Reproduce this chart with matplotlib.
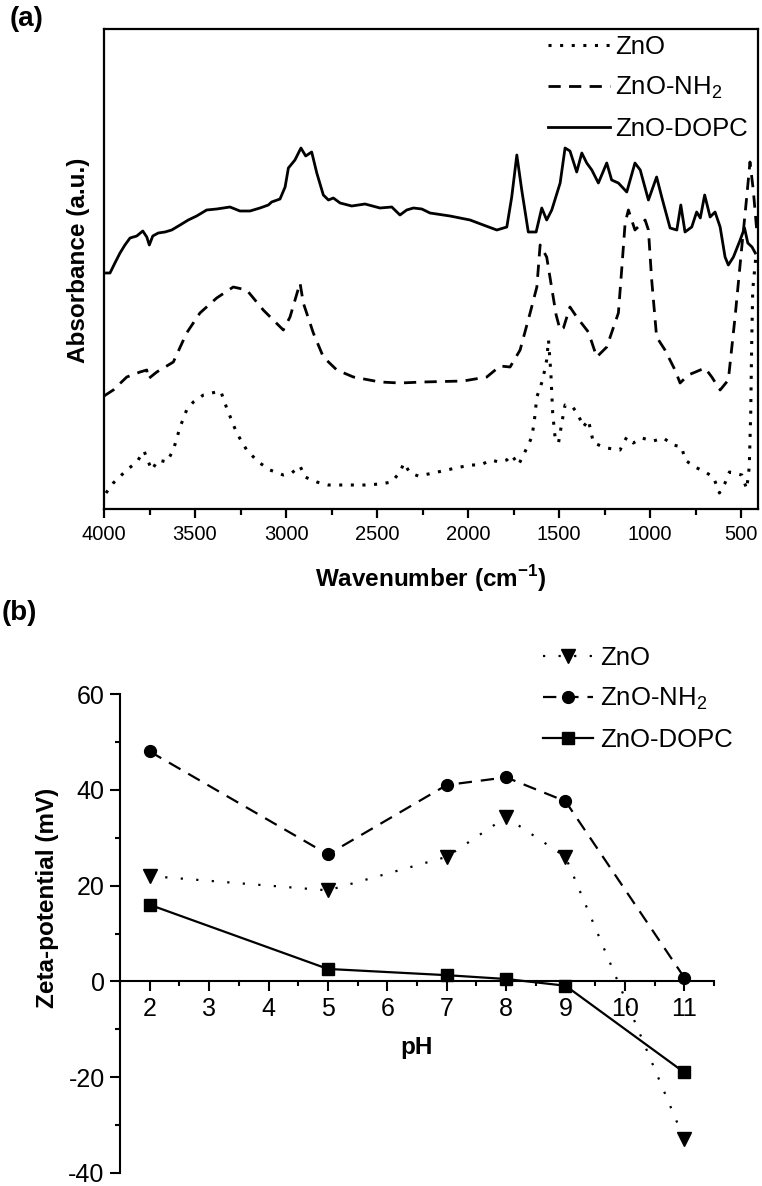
import matplotlib
matplotlib.use('Agg')
import matplotlib.pyplot as plt
from matplotlib.ticker import MultipleLocator

plt.rcParams['font.family'] = ['Liberation Sans', 'DejaVu Sans']
plt.rcParams['mathtext.fontset'] = 'custom'
plt.rcParams['mathtext.rm'] = 'Liberation Sans'
plt.rcParams['mathtext.bf'] = 'Liberation Sans:bold'
plt.rcParams['axes.unicode_minus'] = False

# (a) FTIR spectra, wavenumber (cm-1) vs absorbance (a.u., offset)
wn_zno = [3989, 3949, 3875, 3820, 3780, 3738, 3702, 3655, 3619, 3582, 3546, 3509,
          3454, 3408, 3359, 3326, 3271, 3216, 3152, 3088, 3015, 2969, 2923, 2896,
          2831, 2767, 2566, 2484, 2419, 2374, 2352, 2319, 2273, 2191, 2117, 1989,
          1934, 1870, 1833, 1787, 1760, 1723, 1696, 1669, 1650, 1637, 1622, 1590,
          1568, 1558, 1545, 1535, 1522, 1503, 1485, 1467, 1425, 1394, 1367, 1339,
          1311, 1238, 1165, 1128, 1092, 1046, 982, 927, 872, 826, 808, 753, 698,
          652, 619, 588, 564, 496, 469, 455, 447, 442, 436, 420]
abs_zno = [0.16, 0.26, 0.39, 0.47, 0.58, 0.39, 0.49, 0.47, 0.59, 0.82, 0.99, 1.07,
           1.14, 1.16, 1.18, 1.01, 0.76, 0.59, 0.47, 0.39, 0.34, 0.36, 0.43, 0.32,
           0.27, 0.24, 0.24, 0.25, 0.27, 0.37, 0.46, 0.36, 0.33, 0.36, 0.39, 0.44,
           0.44, 0.49, 0.47, 0.49, 0.54, 0.44, 0.54, 0.64, 0.72, 0.86, 1.12, 1.29,
           1.49, 1.69, 1.36, 0.96, 0.72, 0.66, 0.86, 1.04, 1.02, 0.94, 0.82, 0.89,
           0.66, 0.61, 0.59, 0.72, 0.66, 0.71, 0.68, 0.71, 0.64, 0.62, 0.49, 0.42,
           0.37, 0.32, 0.16, 0.26, 0.37, 0.34, 0.20, 0.42, 0.96, 1.62, 2.19, 2.50]

wn_nh2 = [4000, 3949, 3875, 3802, 3765, 3758, 3710, 3619, 3546, 3473, 3381, 3290,
          3216, 3125, 3015, 2978, 2923, 2905, 2850, 2795, 2721, 2630, 2484, 2374,
          2246, 2026, 1897, 1824, 1769, 1714, 1659, 1622, 1604, 1568, 1516, 1494,
          1476, 1440, 1403, 1339, 1293, 1238, 1174, 1156, 1137, 1119, 1083, 1027,
          1009, 991, 964, 918, 863, 835, 790, 698, 661, 615, 570, 533, 496, 469,
          451, 433, 414]
abs_nh2 = [1.13, 1.19, 1.32, 1.37, 1.39, 1.30, 1.37, 1.47, 1.76, 1.96, 2.11, 2.22,
           2.19, 1.99, 1.79, 1.92, 2.26, 2.06, 1.76, 1.52, 1.39, 1.32, 1.27, 1.26,
           1.27, 1.28, 1.32, 1.43, 1.42, 1.59, 1.96, 2.22, 2.64, 2.52, 1.94, 1.79,
           1.81, 2.02, 1.92, 1.77, 1.52, 1.62, 1.96, 2.39, 2.86, 2.99, 2.79, 2.89,
           2.79, 2.29, 1.72, 1.59, 1.39, 1.26, 1.34, 1.41, 1.32, 1.19, 1.29, 1.92,
           2.62, 3.12, 3.47, 3.19, 2.79]

wn_dopc = [3995, 3967, 3940, 3912, 3885, 3857, 3820, 3787, 3765, 3751, 3732, 3702,
           3665, 3628, 3582, 3537, 3491, 3436, 3381, 3308, 3253, 3198, 3143, 3097,
           3079, 3033, 3005, 2987, 2951, 2918, 2892, 2859, 2831, 2795, 2767, 2740,
           2703, 2639, 2566, 2484, 2419, 2374, 2337, 2300, 2254, 2209, 2099, 1989,
           1916, 1842, 1787, 1760, 1732, 1705, 1669, 1626, 1595, 1568, 1540, 1494,
           1467, 1440, 1403, 1375, 1348, 1320, 1284, 1238, 1211, 1174, 1128, 1083,
           1054, 1009, 964, 936, 890, 853, 831, 808, 771, 744, 724, 700, 670, 643,
           615, 588, 570, 542, 505, 481, 463, 440, 422]
abs_dopc = [2.36, 2.36, 2.46, 2.56, 2.64, 2.71, 2.73, 2.78, 2.72, 2.64, 2.73, 2.76,
            2.77, 2.79, 2.84, 2.89, 2.93, 2.99, 3.00, 3.02, 2.98, 2.98, 3.01, 3.04,
            3.07, 3.10, 3.22, 3.41, 3.49, 3.61, 3.53, 3.57, 3.36, 3.14, 3.09, 3.11,
            3.06, 3.03, 3.05, 3.01, 3.02, 2.94, 2.99, 3.01, 3.00, 2.96, 2.93, 2.89,
            2.84, 2.79, 2.82, 3.12, 3.54, 3.19, 2.77, 2.77, 3.01, 2.89, 2.99, 3.26,
            3.61, 3.58, 3.37, 3.56, 3.46, 3.39, 3.26, 3.46, 3.29, 3.26, 3.17, 3.46,
            3.39, 3.09, 3.32, 3.12, 2.81, 2.79, 3.04, 2.77, 2.82, 2.97, 2.91, 3.14,
            2.92, 2.97, 2.82, 2.52, 2.44, 2.52, 2.69, 2.81, 2.66, 2.62, 2.56]

# (b) zeta potential vs pH
ph = [2, 5, 7, 8, 9, 11]
zeta_zno = [22.0, 19.0, 26.0, 34.3, 26.0, -33.0]
zeta_nh2 = [48.0, 26.5, 41.0, 42.6, 37.6, 0.8]
zeta_dopc = [16.0, 2.6, 1.3, 0.5, -0.9, -19.0]

W, H = 762, 1186
fig = plt.figure(figsize=(W / 100, H / 100), dpi=100)

# ---- panel (a)
ax1 = fig.add_axes([104 / W, 1 - 509 / H, 654 / W, 480 / H])
ax1.plot(wn_zno, abs_zno, color='black', lw=2.2, linestyle=(0, (1, 2.8)),
         label='ZnO')
ax1.plot(wn_nh2, abs_nh2, color='black', lw=2.0, linestyle=(0, (4.4, 3.0)),
         label='ZnO-NH$_\\mathrm{2}$')
ax1.plot(wn_dopc, abs_dopc, color='black', lw=2.0, label='ZnO-DOPC')
ax1.set_xlim(4000, 407)
ax1.set_ylim(0, 4.8)
ax1.set_yticks([])
ax1.xaxis.set_major_locator(MultipleLocator(500))
ax1.xaxis.set_minor_locator(MultipleLocator(250))
ax1.tick_params(axis='x', which='major', direction='out', length=6.5, width=1.6,
                labelsize=14.5, pad=5)
ax1.tick_params(axis='x', which='minor', direction='out', length=4.5, width=1.6)
for s in ax1.spines.values():
    s.set_linewidth(1.6)
ax1.set_xlabel('Wavenumber (cm$^{\\mathbf{-1}}$)', fontsize=17.5, fontweight='bold')
ax1.xaxis.set_label_coords(0.5, -0.113)
ax1.set_ylabel('Absorbance (a.u.)', fontsize=17.5, fontweight='bold')
ax1.yaxis.set_label_coords(-0.022, 0.519)
ax1.legend(loc='upper left', bbox_to_anchor=(548 / W, 1 - 35 / H),
           bbox_transform=fig.transFigure, frameon=False, fontsize=18.5,
           handlelength=2.4, handletextpad=0.2, labelspacing=0.62,
           borderpad=0, borderaxespad=0)

# ---- panel (b)
ax2 = fig.add_axes([120 / W, 1 - 1173 / H, 594 / W, 479 / H])
ax2.plot(ph, zeta_zno, color='black', lw=1.6, linestyle=(0, (1, 6)),
         marker='v', markersize=10, label='ZnO')
ax2.plot(ph, zeta_nh2, color='black', lw=1.6, linestyle=(0, (6.0, 4)),
         marker='o', markersize=8.5, label='ZnO-NH$_\\mathrm{2}$')
ax2.plot(ph, zeta_dopc, color='black', lw=1.6, marker='s', markersize=8,
         label='ZnO-DOPC')
ax2.set_xlim(1.5, 11.5)
ax2.set_ylim(-40, 60)
ax2.spines['top'].set_visible(False)
ax2.spines['right'].set_visible(False)
ax2.spines['bottom'].set_position(('data', 0))
for s in ax2.spines.values():
    s.set_linewidth(1.5)
ax2.set_xticks(range(2, 12))
ax2.xaxis.set_minor_locator(MultipleLocator(0.5))
ax2.yaxis.set_major_locator(MultipleLocator(20))
ax2.yaxis.set_minor_locator(MultipleLocator(10))
ax2.tick_params(which='major', direction='out', length=7, width=1.5,
                labelsize=18, pad=4)
ax2.tick_params(which='minor', direction='out', length=3.5, width=1.5)
ax2.set_xlabel('pH', fontsize=17.5, fontweight='bold')
ax2.xaxis.set_label_coords(0.5, 0.285)
ax2.set_ylabel('Zeta-potential (mV)', fontsize=17.5, fontweight='bold')
ax2.yaxis.set_label_coords(-0.103, 0.574)
ax2.legend(loc='upper left', bbox_to_anchor=(543 / W, 1 - 646 / H),
           bbox_transform=fig.transFigure, frameon=False, fontsize=18.5,
           handlelength=1.95, handletextpad=0.28, labelspacing=0.62,
           borderpad=0, borderaxespad=0)

fig.text(10 / W, 1 - 6 / H, '(a)', fontsize=20, fontweight='bold', va='top')
fig.text(2 / W, 1 - 600 / H, '(b)', fontsize=20, fontweight='bold', va='top')

fig.savefig('out.png', dpi=100)
